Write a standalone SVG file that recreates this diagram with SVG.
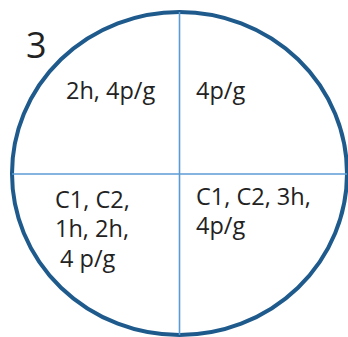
<svg xmlns="http://www.w3.org/2000/svg" width="348" height="337" viewBox="0 0 348 337">
<style>
.t{font-family:"Open Sans","Liberation Sans",sans-serif;font-size:23.5px;fill:#222}
.div{stroke:#5b9bd5;stroke-width:1.6;fill:none}
</style>
<rect width="348" height="337" fill="#fff"/>
<g id="circle">
<ellipse cx="179.5" cy="173.5" rx="167.5" ry="161.5" fill="none" stroke="#1f5a8c" stroke-width="4"/>
</g>
<g id="dividers">
<line class="div" x1="179.5" y1="12" x2="179.5" y2="335"/>
<line class="div" x1="12" y1="174" x2="347" y2="174"/>
</g>
<g id="label-3"><text x="26" y="58" style="font-family:'Open Sans','Liberation Sans',sans-serif;font-size:36px;fill:#222">3</text></g>
<g id="q-top-left"><text class="t" x="66" y="99">2h, 4p/g</text></g>
<g id="q-top-right"><text class="t" x="196" y="99">4p/g</text></g>
<g id="q-bottom-left"><text class="t"><tspan x="55" y="208">C1, C2,</tspan><tspan x="55" y="237">1h, 2h,</tspan><tspan x="60" y="267">4 p/g</tspan></text></g>
<g id="q-bottom-right"><text class="t"><tspan x="196" y="205">C1, C2, 3h,</tspan><tspan x="196" y="234">4p/g</tspan></text></g>
</svg>
